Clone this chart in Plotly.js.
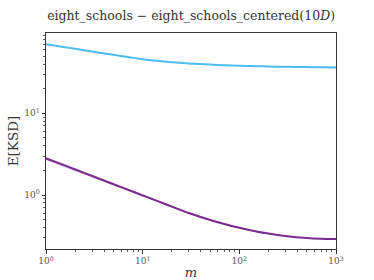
<!DOCTYPE html>
<html><head><meta charset="utf-8">
<script src="https://cdn.plot.ly/plotly-3.0.1.min.js"></script>
<style>html,body{margin:0;padding:0;background:#fff}#plot{width:374px;height:280px}</style>
</head><body><div id="plot"></div>
<script>
const m = [1,1.5,2,3,5,7,10,15,20,30,50,70,100,150,200,300,500,700,1000];
const purpleMean = [2.812,2.339,2.053,1.708,1.354,1.163,0.989,0.823,0.722,0.603,0.4946,0.4414,0.3972,0.3584,0.3374,0.3150,0.2971,0.2907,0.2884];
const purpleLo = [2.686,2.238,1.967,1.640,1.304,1.122,0.956,0.798,0.702,0.588,0.484,0.433,0.390,0.353,0.332,0.311,0.294,0.288,0.286];
const purpleHi = [2.939,2.440,2.139,1.776,1.404,1.204,1.022,0.848,0.742,0.618,0.505,0.450,0.404,0.364,0.342,0.319,0.301,0.294,0.291];
const blueMean = [69.98,64.93,61.56,57.12,51.95,48.83,46.00,43.59,42.27,40.78,39.45,38.78,38.21,37.71,37.41,37.09,36.78,36.63,36.49];
const blueLo = [69.0,64.0,60.7,56.3,51.2,48.1,45.4,43.0,41.7,40.2,38.9,38.2,37.7,37.2,36.9,36.6,36.3,36.1,36.0];
const blueHi = [71.0,65.8,62.4,57.9,52.7,49.5,46.6,44.2,42.9,41.4,40.0,39.3,38.7,38.2,37.9,37.6,37.3,37.1,37.0];
const xTickVals = [1,10,100,1000];
const xTickText = ['10<sup>0</sup>','10<sup>1</sup>','10<sup>2</sup>','10<sup>3</sup>'];
const yTickVals = [1,10];
const yTickText = ['10<sup>0</sup>','10<sup>1</sup>'];

const BLUE = '#4dbcf0', PURPLE = '#7b2a8d';
function band(lo, hi, color) {
  return [
    {x: m, y: lo, mode: 'lines', line: {width: 0, shape: 'spline', smoothing: 0.6}, hoverinfo: 'skip', showlegend: false},
    {x: m, y: hi, mode: 'lines', line: {width: 0, shape: 'spline', smoothing: 0.6}, fill: 'tonexty', fillcolor: color, hoverinfo: 'skip', showlegend: false}
  ];
}
const data = [
  ...band(blueLo, blueHi, 'rgba(77,188,240,0.35)'),
  {x: m, y: blueMean, mode: 'lines', line: {color: BLUE, width: 2, shape: 'spline', smoothing: 0.6}, showlegend: false},
  ...band(purpleLo, purpleHi, 'rgba(123,42,141,0.3)'),
  {x: m, y: purpleMean, mode: 'lines', line: {color: PURPLE, width: 2, shape: 'spline', smoothing: 0.6}, showlegend: false}
];
const axisCommon = {
  type: 'log', showgrid: false, zeroline: false, showline: true, linecolor: '#333', linewidth: 1,
  mirror: true, ticks: 'outside', ticklen: 3.5, tickwidth: 1, tickcolor: '#333',
  tickfont: {family: 'DejaVu Serif, serif', size: 9, color: '#555'},
  minor: {ticks: 'outside', ticklen: 2, tickwidth: 0.8, tickcolor: '#333', dtick: 'D1', showgrid: false}
};
const layout = {
  width: 374, height: 280,
  margin: {l: 46, r: 38, t: 33, b: 31},
  paper_bgcolor: '#fff', plot_bgcolor: '#fff',
  title: {text: 'eight_schools − eight_schools_centered(10<i>D</i>)', x: 0.511, xanchor: 'center', y: 0.945, yanchor: 'middle',
          font: {family: 'DejaVu Serif, serif', size: 12.5, color: '#333'}},
  xaxis: Object.assign({}, axisCommon, {range: [0, 3], tickmode: 'array', tickvals: xTickVals, ticktext: xTickText,
    title: {text: '<i>m</i>', standoff: 4, font: {family: 'DejaVu Serif, serif', size: 13, color: '#333'}}}),
  yaxis: Object.assign({}, axisCommon, {range: [-0.661, 1.983], tickmode: 'array', tickvals: yTickVals, ticktext: yTickText,
    title: {text: 'E[KSD]', standoff: 2, font: {family: 'DejaVu Serif, serif', size: 13.5, color: '#333'}}})
};
Plotly.newPlot('plot', data, layout, {staticPlot: true, displayModeBar: false});
</script></body></html>
